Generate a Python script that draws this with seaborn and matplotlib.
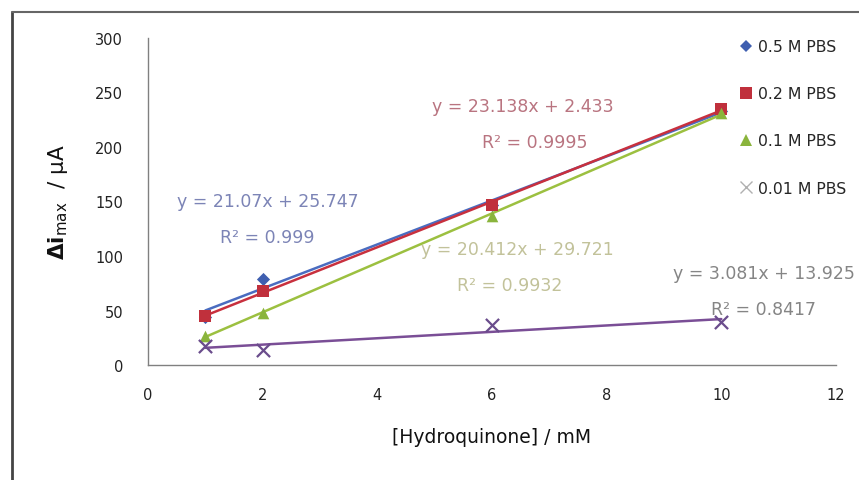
import numpy as np
import pandas as pd
import seaborn as sns
import matplotlib.pyplot as plt
from matplotlib.lines import Line2D

# concentrations of hydroquinone (mM)
conc = [1, 2, 6, 10]

# peak current change (uA) per buffer
pbs_05 = [44, 79, 147, 233]
pbs_02 = [45, 68, 147, 235]
pbs_01 = [27, 48, 137, 231]
pbs_001 = [17, 14, 37, 39]

labels = ['0.5 M PBS', '0.2 M PBS', '0.1 M PBS', '0.01 M PBS']
marker_colors = ['#3F5FB0', '#C0303C', '#8AB43C', '#6A4C8C']
line_colors = ['#4A6CC0', '#C8303E', '#9CC040', '#7A4E96']
markers = ['D', 's', '^', 'x']
sizes = [45, 80, 70, 90]

eqs = ['y = 21.07x + 25.747', 'y = 23.138x + 2.433', 'y = 20.412x + 29.721', 'y = 3.081x + 13.925']
r2s = ['R² = 0.999', 'R² = 0.9995', 'R² = 0.9932', 'R² = 0.8417']
eq_colors = ['#7C84B6', '#B97480', '#C2C29A', '#858585']
eq_pos = [(2.09, 150), (6.54, 238), (6.44, 106), (10.75, 84)]
r2_pos = [(2.08, 117), (6.75, 205), (6.31, 73), (10.73, 51)]

df = pd.DataFrame({
    'conc': conc * 4,
    'current': pbs_05 + pbs_02 + pbs_01 + pbs_001,
    'buffer': sum([[l] * 4 for l in labels], []),
})

sns.set_style('white')
plt.rcParams['font.family'] = ['DejaVu Sans']

fig = plt.figure(figsize=(8.59, 4.81), dpi=100)
ax = fig.add_axes([148 / 859, 1 - 366 / 481, (836 - 148) / 859, (366 - 39) / 481])

handles = []
for i, lab in enumerate(labels):
    sub = df[df['buffer'] == lab]
    sns.regplot(data=sub, x='conc', y='current', ax=ax, ci=None, scatter=False,
                line_kws={'color': line_colors[i], 'lw': 1.8, 'zorder': 2})
for i, lab in enumerate(labels):
    sub = df[df['buffer'] == lab]
    ax.scatter(sub['conc'], sub['current'], marker=markers[i], s=sizes[i],
               color=marker_colors[i], linewidths=1.6 if markers[i] == 'x' else 0, zorder=3)
    handles.append(Line2D([], [], ls='none', marker=markers[i], color=marker_colors[i] if i < 3 else '#B0B0B0',
                          markersize=[6.5, 8, 8, 8][i], markeredgewidth=1.0 if i == 3 else 0))

for i in range(4):
    ax.text(*eq_pos[i], eqs[i], color=eq_colors[i], fontsize=12.5, ha='center', va='center')
    ax.text(*r2_pos[i], r2s[i], color=eq_colors[i], fontsize=12.5, ha='center', va='center')

ax.set_xlim(0, 12)
ax.set_ylim(0, 300)
ax.set_xticks(range(0, 13, 2))
ax.set_yticks(range(0, 301, 50))
for s in ['top', 'right']:
    ax.spines[s].set_visible(False)
for s in ['left', 'bottom']:
    ax.spines[s].set_color('#808080')
    ax.spines[s].set_linewidth(1.0)
ax.tick_params(axis='both', colors='#808080', labelcolor='#222222', labelsize=10.5,
               length=5, width=1, direction='inout', pad=13)
ax.tick_params(axis='y', direction='out', length=4, pad=14)

ax.set_xlabel('[Hydroquinone] / mM', fontsize=13.5, labelpad=18, color='#111111')
ax.set_ylabel(r'$\mathbf{\Delta i}_{\mathrm{max}}$  / μA', fontsize=15.5, labelpad=18, color='#111111')

fig.legend(handles, labels, loc='upper left', bbox_to_anchor=(720 / 859, 1 - 26 / 481),
           frameon=False, fontsize=11.3, labelspacing=2.05, handletextpad=0.05, handlelength=1.5)

# outer chart frame
fig.add_artist(Line2D([12 / 859, 12 / 859], [0, 1 - 13 / 481], color='#444444', lw=2))
fig.add_artist(Line2D([12 / 859, 1], [1 - 13 / 481, 1 - 13 / 481], color='#666666', lw=1.5))

fig.savefig('out.png', dpi=100)
